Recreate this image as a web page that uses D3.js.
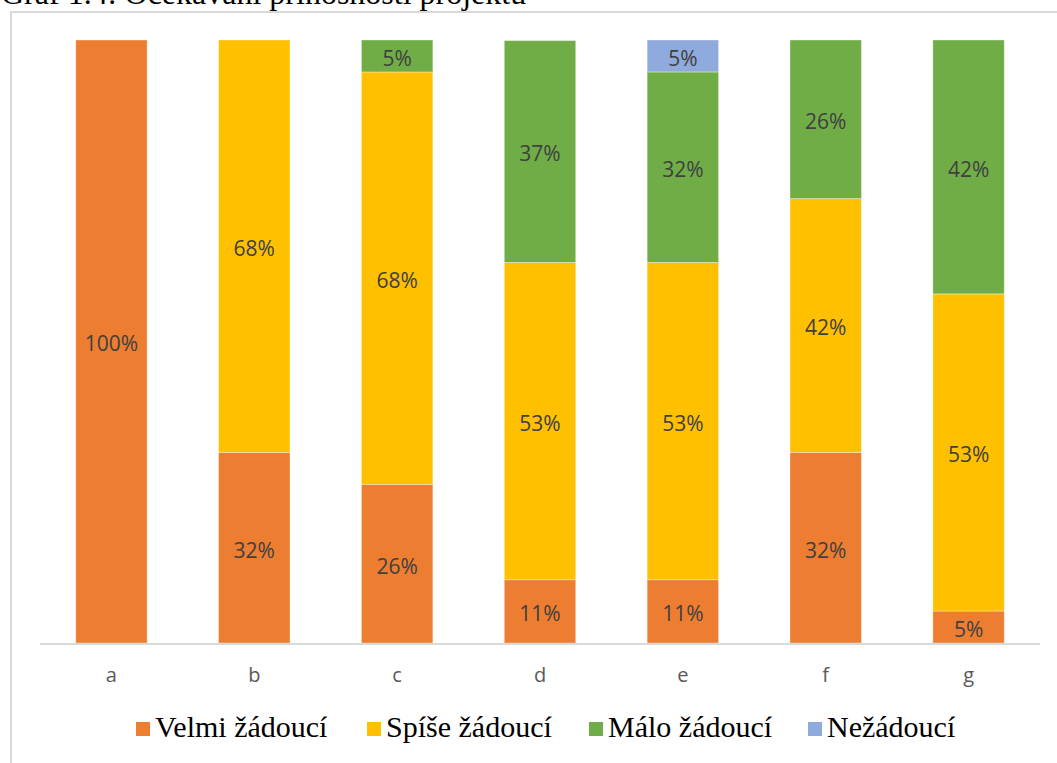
<!DOCTYPE html>
<html>
<head>
<meta charset="utf-8">
<script src="https://cdn.jsdelivr.net/npm/d3@7"></script>
<style>
  body { margin: 0; background: #fff; overflow: hidden; }
  svg { display: block; }
</style>
</head>
<body>
<div id="chart"></div>
<script>
// dati (quote su 19 risposte, etichette arrotondate)
const categorie = ['a', 'b', 'c', 'd', 'e', 'f', 'g'];
const serie = ['Velmi žádoucí', 'Spíše žádoucí', 'Málo žádoucí', 'Nežádoucí'];
const velmi  = [100, 31.6, 26.3, 10.5, 10.5, 31.6, 5.3];
const spise  = [0, 68.4, 68.4, 52.6, 52.6, 42.1, 52.6];
const malo   = [0, 0, 5.3, 36.8, 31.6, 26.3, 42.1];
const nezad  = [0, 0, 0, 0, 5.3, 0, 0];
const colori = ['#ED7D31', '#FFC000', '#70AD47', '#8FAADC'];
const titolo = 'Graf 1.4: Očekávaní přínosnosti projektu';

const width = 1057, height = 763;
const svg = d3.select('#chart').append('svg')
    .attr('width', width)
    .attr('height', height);

// titolo tagliato in alto come nell'originale
svg.append('text')
    .attr('x', 1).attr('y', 4)
    .style('font-family', '"Liberation Serif", "Times New Roman", serif')
    .style('font-size', '32px')
    .style('fill', '#000')
    .text(titolo);

// cornice dell'area grafico
svg.append('path')
    .attr('d', `M11,${height + 5} V12 H${width + 5}`)
    .attr('fill', 'none')
    .attr('stroke', '#d9d9d9')
    .attr('stroke-width', 2);

// tabella per lo stack
const righe = categorie.map((c, i) => ({
    cat: c,
    [serie[0]]: velmi[i],
    [serie[1]]: spise[i],
    [serie[2]]: malo[i],
    [serie[3]]: nezad[i]
}));
const stack = d3.stack().keys(serie)(righe);

const x = d3.scaleBand()
    .domain(categorie)
    .range([40, 1040])
    .paddingInner(0.5)
    .paddingOuter(0.25);

const y = d3.scaleLinear()
    .domain([0, 100])
    .range([643, 40]);

const colore = d3.scaleOrdinal().domain(serie).range(colori);

const gruppi = svg.selectAll('.serie')
    .data(stack)
    .join('g')
    .attr('class', 'serie')
    .attr('fill', d => colore(d.key));

gruppi.selectAll('rect')
    .data(d => d.filter(p => p[1] - p[0] > 0))
    .join('rect')
    .attr('x', d => x(d.data.cat))
    .attr('width', x.bandwidth())
    .attr('y', d => y(d[1]))
    .attr('height', d => y(d[0]) - y(d[1]))
    .attr('stroke', '#fff')
    .attr('stroke-opacity', 0.35)
    .attr('stroke-width', 1);

// etichette percentuali al centro dei segmenti
gruppi.selectAll('text')
    .data(d => d.filter(p => p[1] - p[0] > 0))
    .join('text')
    .attr('x', d => x(d.data.cat) + x.bandwidth() / 2)
    .attr('y', d => (y(d[0]) + y(d[1])) / 2)
    .attr('dy', '0.47em')
    .attr('text-anchor', 'middle')
    .style('font-family', '"Open Sans", "Noto Sans", sans-serif')
    .style('font-size', '21px')
    .style('fill', '#404040')
    .text(d => Math.round(d[1] - d[0]) + '%');

// asse x
const asse = svg.append('g')
    .attr('transform', 'translate(0,643)')
    .call(d3.axisBottom(x).tickSize(0).tickPadding(25));
asse.select('.domain')
    .attr('stroke', '#d9d9d9')
    .attr('stroke-width', 2)
    .attr('d', 'M40,1H1040');
asse.selectAll('text')
    .style('font-family', '"Open Sans", "Noto Sans", sans-serif')
    .style('font-size', '20px')
    .style('fill', '#595959');

// legenda
const xLegenda = [136, 367, 589, 808];
const legenda = svg.append('g');
serie.forEach((s, i) => {
    const r = legenda.append('g')
        .attr('transform', `translate(${xLegenda[i]}, 722)`);
    r.append('rect')
        .attr('width', 14).attr('height', 14)
        .attr('fill', colori[i]);
    r.append('text')
        .attr('x', 19).attr('y', 15)
        .style('font-family', '"Liberation Serif", "Times New Roman", serif')
        .style('font-size', '30px')
        .style('fill', '#000')
        .text(s);
});
</script>
</body>
</html>
